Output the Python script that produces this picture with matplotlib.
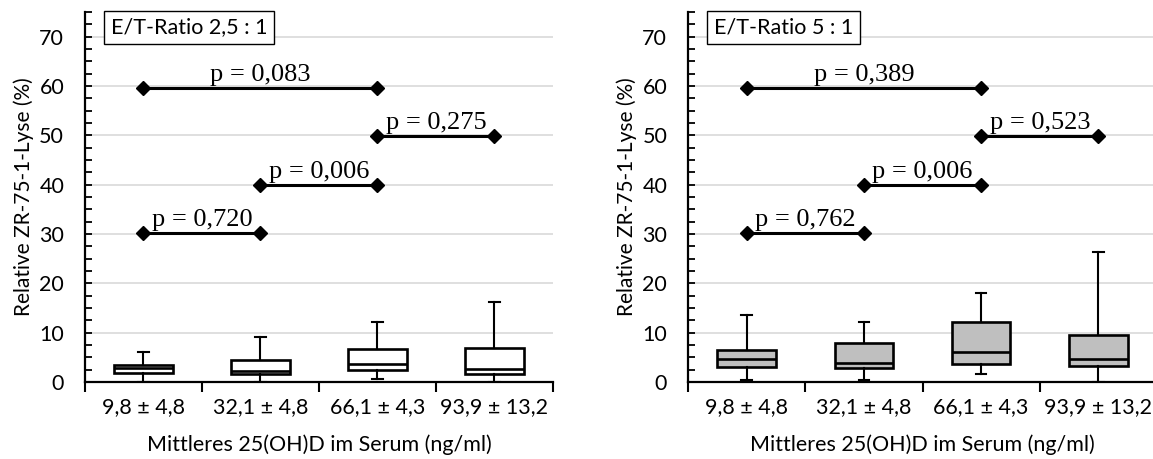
import matplotlib
matplotlib.use('Agg')
from matplotlib import pyplot as plt
from matplotlib.ticker import MultipleLocator

# Gruppen: mittleres 25(OH)D im Serum
categories = ['9,8 ± 4,8', '32,1 ± 4,8', '66,1 ± 4,3', '93,9 ± 13,2']

# E/T-Ratio 2,5 : 1 (Whisker unten, Q1, Median, Q3, Whisker oben)
ratio25_low = [0.0, 0.0, 0.7, 0.0]
ratio25_q1 = [1.9, 1.7, 2.4, 1.6]
ratio25_med = [2.8, 2.3, 3.6, 2.6]
ratio25_q3 = [3.4, 4.4, 6.6, 6.8]
ratio25_high = [6.0, 9.2, 12.1, 16.2]

# E/T-Ratio 5 : 1
ratio5_low = [0.35, 0.5, 1.7, 0.0]
ratio5_q1 = [3.1, 2.8, 3.6, 3.3]
ratio5_med = [4.7, 3.8, 6.1, 4.6]
ratio5_q3 = [6.5, 8.0, 12.1, 9.5]
ratio5_high = [13.5, 12.1, 18.0, 26.3]

# Vergleiche: von Gruppe, bis Gruppe, Hoehe der Klammer
pair_from = [0, 1, 2, 0]
pair_to = [1, 2, 3, 2]
pair_y = [30.3, 40.0, 49.9, 59.6]
p_ratio25 = ['0,720', '0,006', '0,275', '0,083']
p_ratio5 = ['0,762', '0,006', '0,523', '0,389']

SANS = 'Lato'
SERIF = 'Liberation Serif'
FS = 15.5


def draw_panel(ax, title, low, q1, med, q3, high, p_texts, face):
    positions = [i + 0.5 for i in range(len(categories))]

    # Boxplots aus den Kennwerten
    stats = []
    for i in range(len(categories)):
        stats.append({'whislo': low[i], 'q1': q1[i], 'med': med[i],
                      'q3': q3[i], 'whishi': high[i]})
    ax.bxp(stats, positions=positions, widths=0.5, capwidths=0.09,
           showfliers=False, patch_artist=True,
           boxprops=dict(facecolor=face, edgecolor='black', linewidth=1.9),
           medianprops=dict(color='black', linewidth=1.9),
           whiskerprops=dict(color='black', linewidth=1.5),
           capprops=dict(color='black', linewidth=1.5),
           zorder=3)

    # p-Werte mit Klammern
    for a, b, y, p in zip(pair_from, pair_to, pair_y, p_texts):
        ax.plot([positions[a], positions[b]], [y, y], color='black',
                linewidth=2.2, marker='D', markersize=7, zorder=4)
        ax.annotate('p = ' + p, xy=((positions[a] + positions[b]) / 2, y),
                    xytext=(0, 5), textcoords='offset points',
                    ha='center', va='baseline', family=SERIF, fontsize=19)

    # Achsen
    ax.set_xlim(0, 4)
    ax.set_ylim(0, 75)
    ax.set_xticks([0, 1, 2, 3, 4])
    ax.set_xticklabels([])
    ax.set_xticks(positions, minor=True)
    ax.set_xticklabels(categories, minor=True, family=SANS, fontsize=FS)
    ax.tick_params(axis='x', which='major', direction='out', length=7, width=1.5)
    ax.tick_params(axis='x', which='minor', length=0, pad=11)

    ax.set_yticks(range(0, 71, 10))
    ax.yaxis.set_minor_locator(MultipleLocator(2.5))
    ax.tick_params(axis='y', which='both', direction='in', length=5,
                   width=1.3, pad=15, labelsize=FS)
    for lbl in ax.get_yticklabels():
        lbl.set_family(SANS)

    ax.grid(axis='y', which='major', color='#d9d9d9', linewidth=1.2)
    ax.set_axisbelow(True)
    for side in ['top', 'right']:
        ax.spines[side].set_visible(False)
    for side in ['left', 'bottom']:
        ax.spines[side].set_linewidth(1.6)

    ax.set_xlabel('Mittleres 25(OH)D im Serum (ng/ml)', family=SANS,
                  fontsize=FS, labelpad=12)
    ax.set_ylabel('Relative ZR-75-1-Lyse (%)', family=SANS, fontsize=15,
                  labelpad=4)

    # Titelkasten
    ax.text(0.055, 0.985, title, transform=ax.transAxes, va='top', ha='left',
            family=SANS, fontsize=FS, clip_on=False,
            bbox=dict(boxstyle='square,pad=0.3', facecolor='white',
                      edgecolor='black', linewidth=1.0))


def main():
    fig = plt.figure(figsize=(11.53, 4.59), dpi=100)
    ax1 = fig.add_axes([0.0737, 0.1678, 0.4059, 0.806])
    ax2 = fig.add_axes([0.5967, 0.1678, 0.4068, 0.806])

    draw_panel(ax1, 'E/T-Ratio 2,5 : 1', ratio25_low, ratio25_q1, ratio25_med,
               ratio25_q3, ratio25_high, p_ratio25, 'white')
    draw_panel(ax2, 'E/T-Ratio 5 : 1', ratio5_low, ratio5_q1, ratio5_med,
               ratio5_q3, ratio5_high, p_ratio5, '#bfbfbf')

    fig.savefig('out.png', dpi=100)


if __name__ == '__main__':
    main()
